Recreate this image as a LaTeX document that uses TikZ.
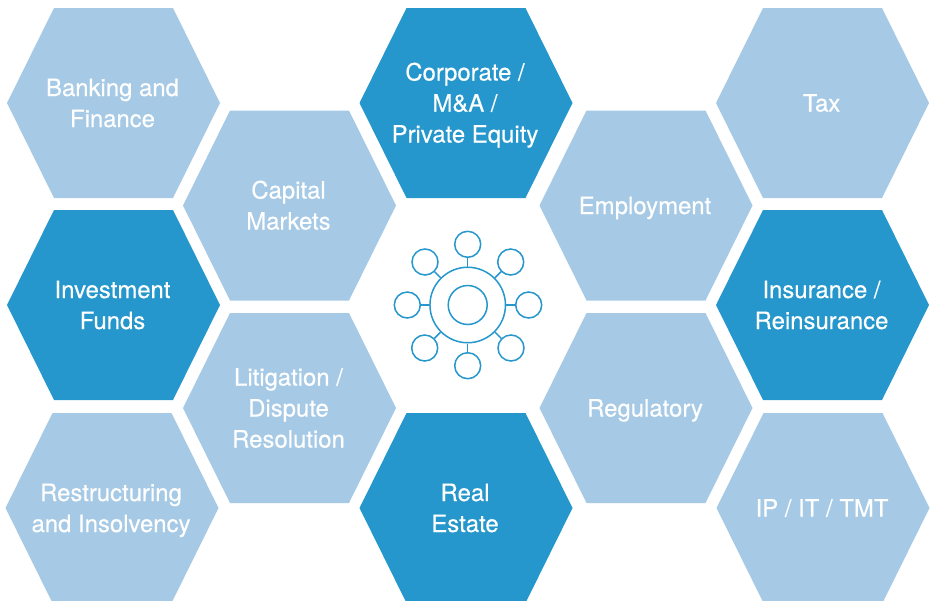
\documentclass[tikz,border=0pt]{standalone}
\usepackage{fontspec}
\newfontfamily\hexfont[RawFeature={embolden=0.35}]{TeX Gyre Heros}
\definecolor{hexlight}{HTML}{A6CAE5}
\definecolor{hexdark}{HTML}{2597CC}
\tikzset{
  hexlabel/.style={text=white,align=center,font=\hexfont\fontsize{23.9}{31}\selectfont,inner sep=0pt,xshift=-1pt},
  iconring/.style={circle,draw=hexdark,line width=1.5pt,inner sep=0pt,fill=white},
  iconlink/.style={draw=hexdark,line width=1.5pt}
}
\newcommand{\hexcell}[5]{%
  \fill[#4] (#2-106.5,#3) -- (#2-59.5,#3-95) -- (#2+59.5,#3-95) -- (#2+106.5,#3) -- (#2+59.5,#3+95) -- (#2-59.5,#3+95) -- cycle;
  \node[hexlabel] (#1) at (#2,#3) {\rule{0pt}{23pt}#5\rule[-6pt]{0pt}{6pt}};
}
\begin{document}
\begin{tikzpicture}[x=1pt,y=-1pt]
\useasboundingbox (0,0) rectangle (931,600);
\hexcell{banking}{113.5}{103}{hexlight}{Banking and\\Finance}
\hexcell{funds}{113.5}{305}{hexdark}{Investment\\Funds}
\hexcell{restruct}{112}{508}{hexlight}{Restructuring\\and Insolvency}
\hexcell{capital}{289.5}{205.5}{hexlight}{Capital\\Markets}
\hexcell{litigation}{289.5}{408}{hexlight}{Litigation /\\Dispute\\Resolution}
\hexcell{corporate}{466}{103}{hexdark}{Corporate /\\M\&A /\\Private Equity}
\hexcell{realestate}{466}{508}{hexdark}{Real\\Estate}
\hexcell{employment}{646}{205.5}{hexlight}{Employment}
\hexcell{regulatory}{646}{408}{hexlight}{Regulatory}
\hexcell{tax}{822.5}{103}{hexlight}{Tax}
\hexcell{insurance}{822.5}{305}{hexdark}{Insurance /\\Reinsurance}
\hexcell{ip}{823}{508}{hexlight}{IP / IT / TMT}
% icon
\node[iconring,minimum size=75.5pt] (hub) at (467.7,305) {};
\node[iconring,minimum size=39pt] (core) at (467.7,305) {};
\foreach \n/\x/\y in {n/467.7/244.3,s/467.7/365.7,w/407.3/305,e/528.7/305,nw/425/262,ne/510.7/262,sw/424.7/348,se/511/348}{
  \node[iconring,minimum size=26pt] (sat\n) at (\x,\y) {};
  \draw[iconlink] (sat\n) -- (hub);
}
\end{tikzpicture}
\end{document}
